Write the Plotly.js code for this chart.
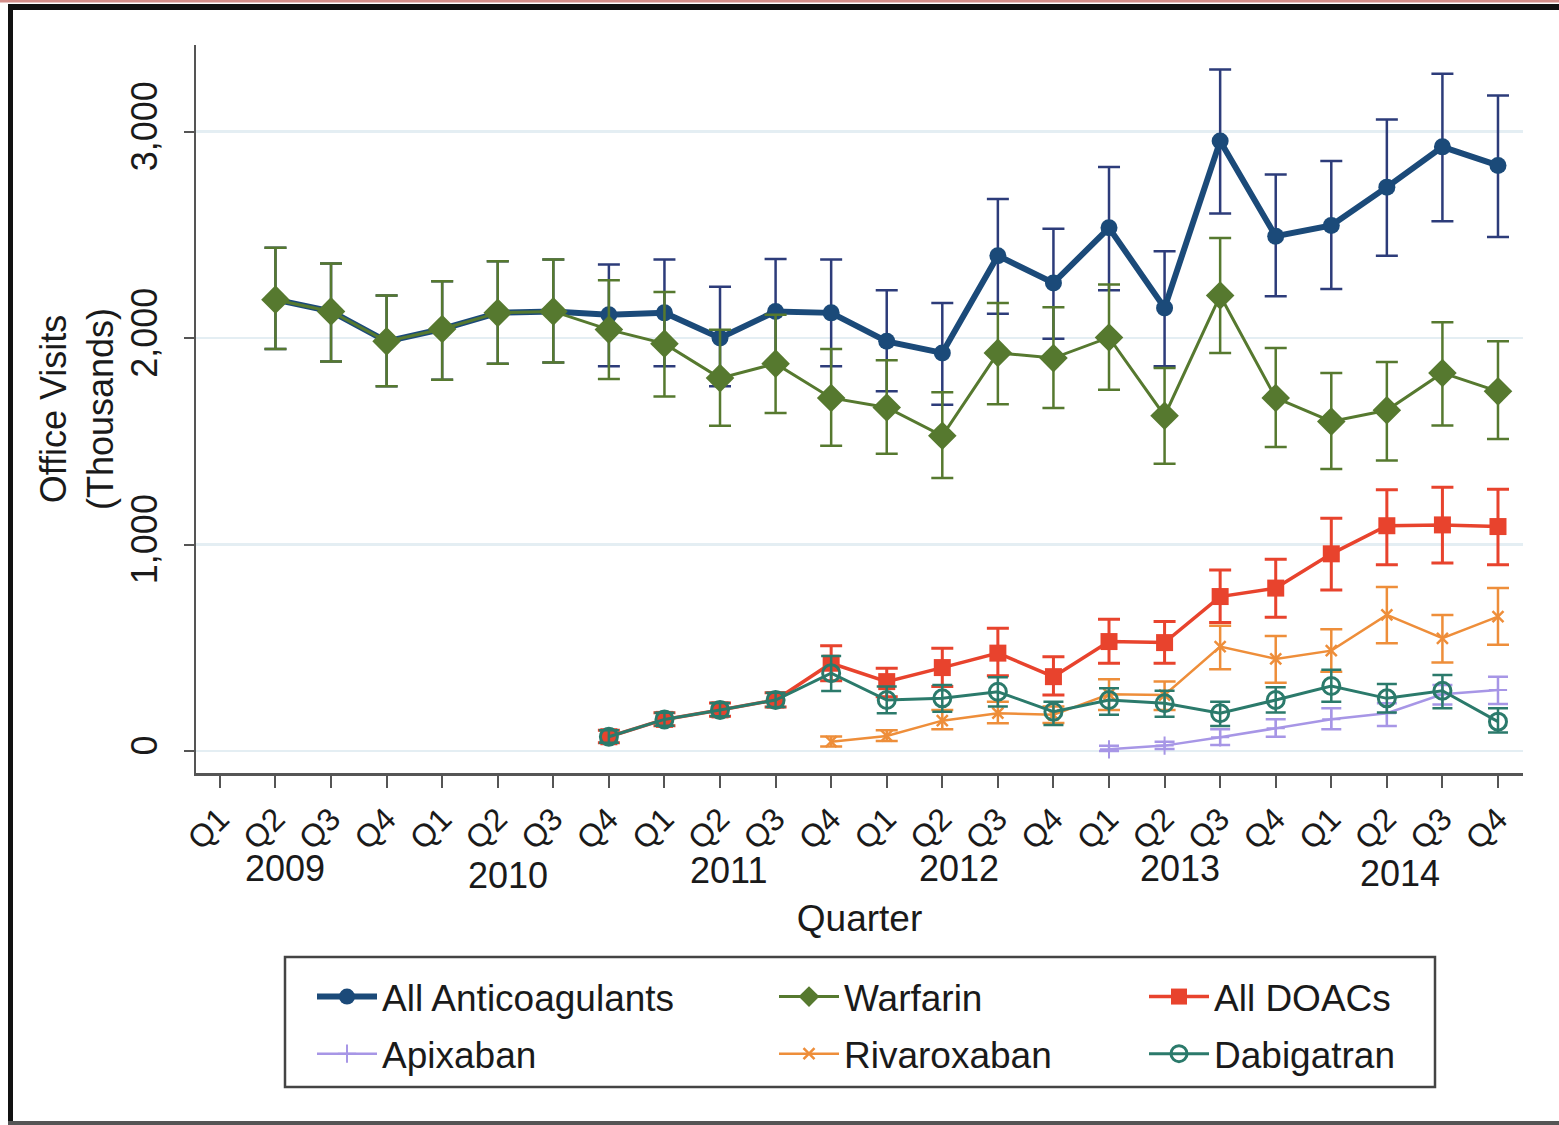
<!DOCTYPE html>
<html>
<head>
<meta charset="utf-8">
<script src="https://cdn.plot.ly/plotly-3.0.1.min.js"></script>
<style>
  html, body { margin: 0; padding: 0; background: #ffffff; }
  #chart { width: 1559px; height: 1125px; }
</style>
</head>
<body>
<div id="chart"></div>
<script>
// ---------------- DATA ----------------
const quarterIndex = [0,1,2,3,4,5,6,7,8,9,10,11,12,13,14,15,16,17,18,19,20,21,22,23];
const quarterLabels = ['Q1','Q2','Q3','Q4','Q1','Q2','Q3','Q4','Q1','Q2','Q3','Q4',
                       'Q1','Q2','Q3','Q4','Q1','Q2','Q3','Q4','Q1','Q2','Q3','Q4'];
const yearLabels = ['2009','2010','2011','2012','2013','2014'];
const seriesNames = ['All Anticoagulants','Warfarin','All DOACs','Apixaban','Rivaroxaban','Dabigatran'];

const allAnti   = [null,2186,2129,1984,2044,2122,2129,2113,2122,2000,2129,2122,1984,1928,2399,2267,2534,2146,2954,2493,2545,2731,2926,2836];
const allAntiHi = [null,2437,2361,2206,2275,2372,2380,2356,2380,2248,2383,2380,2231,2170,2674,2529,2829,2420,3301,2792,2857,3059,3280,3175];
const allAntiLo = [null,1947,1887,1766,1798,1876,1882,1863,1863,1766,1870,1863,1742,1677,2118,1997,2231,1863,2603,2202,2238,2399,2566,2490];

const warfarin   = [null,2186,2129,1984,2044,2122,2129,2041,1973,1806,1876,1710,1664,1527,1928,1903,2003,1624,2206,1710,1596,1650,1831,1742];
const warfarinHi = [null,2437,2361,2206,2275,2372,2380,2280,2223,2040,2113,1947,1892,1737,2170,2149,2259,1855,2485,1952,1831,1884,2076,1984];
const warfarinLo = [null,1947,1887,1766,1798,1876,1882,1802,1717,1575,1637,1478,1440,1322,1680,1661,1750,1391,1928,1472,1366,1407,1577,1511];

const doacs   = [null,null,null,null,null,null,null,69,153,199,247,425,336,404,474,360,530,525,748,789,955,1091,1095,1087];
const doacsHi = [null,null,null,null,null,null,null,100,185,232,282,510,401,498,595,457,638,627,877,929,1127,1265,1278,1268];
const doacsLo = [null,null,null,null,null,null,null,40,122,168,213,340,263,312,364,271,425,425,622,648,780,902,910,902];

const apixaban   = [null,null,null,null,null,null,null,null,null,null,null,null,null,null,null,null,8,26,66,110,154,183,275,296];
const apixabanHi = [null,null,null,null,null,null,null,null,null,null,null,null,null,null,null,null,25,45,105,154,207,231,320,360];
const apixabanLo = [null,null,null,null,null,null,null,null,null,null,null,null,null,null,null,null,0,10,29,69,105,121,225,228];

const rivaroxaban   = [null,null,null,null,null,null,null,null,null,null,null,45,73,147,183,175,275,271,506,446,486,659,546,651];
const rivaroxabanHi = [null,null,null,null,null,null,null,null,null,null,null,70,100,199,239,215,348,336,607,557,590,794,659,789];
const rivaroxabanLo = [null,null,null,null,null,null,null,null,null,null,null,22,48,105,134,135,199,199,396,331,384,522,428,514];

const dabigatran   = [null,null,null,null,null,null,null,69,153,199,247,377,247,255,287,190,247,231,183,247,315,255,292,142];
const dabigatranHi = [null,null,null,null,null,null,null,100,185,232,282,460,312,320,357,239,304,292,239,309,393,325,368,207];
const dabigatranLo = [null,null,null,null,null,null,null,40,122,168,213,290,183,190,215,126,175,166,121,186,239,186,207,89];

const yTickVals = [0,1000,2000,3000];
const yTickText = ['0','1,000','2,000','3,000'];

// ---------------- LAYOUT HELPERS ----------------
const W = 1559, H = 1125;
const M = {l: 196, r: 36, t: 45, b: 352};
const PW = W - M.l - M.r, PH = H - M.t - M.b;
const px2x = px => (px - M.l) / PW;
const px2y = py => (H - M.b - py) / PH;

function errBar(v, hi, lo, color, thick, width) {
  return {
    type: 'data', symmetric: false, visible: true,
    array: v.map((d, i) => d == null ? null : hi[i] - d),
    arrayminus: v.map((d, i) => d == null ? null : d - lo[i]),
    color: color, thickness: thick, width: width
  };
}

const C = {
  navy: '#1b4a79', navyErr: '#2d3c7a',
  green: '#56792f',
  red: '#e8432d',
  orange: '#ee8e3a',
  teal: '#2b7a6b',
  lav: '#a796e6'
};

const traces = [
  {
    name: seriesNames[0], x: quarterIndex, y: allAnti, type: 'scatter', mode: 'lines+markers',
    line: {color: C.navy, width: 6}, marker: {symbol: 'circle', size: 17, color: C.navy},
    error_y: errBar(allAnti, allAntiHi, allAntiLo, C.navyErr, 2.5, 11),
    legend: 'legend', legendgroup: 'g1'
  },
  {
    name: seriesNames[1], x: quarterIndex, y: warfarin, type: 'scatter', mode: 'lines+markers',
    line: {color: C.green, width: 3}, marker: {symbol: 'diamond', size: 22, color: C.green},
    error_y: errBar(warfarin, warfarinHi, warfarinLo, C.green, 2.5, 11),
    legend: 'legend2', legendgroup: 'g2'
  },
  {
    name: seriesNames[2], x: quarterIndex, y: doacs, type: 'scatter', mode: 'lines+markers',
    line: {color: C.red, width: 3.5}, marker: {symbol: 'square', size: 17, color: C.red},
    error_y: errBar(doacs, doacsHi, doacsLo, C.red, 3, 11),
    legend: 'legend3', legendgroup: 'g3'
  },
  {
    name: seriesNames[3], x: quarterIndex, y: apixaban, type: 'scatter', mode: 'lines+markers',
    line: {color: C.lav, width: 2.5}, marker: {symbol: 'cross-thin-open', size: 13, color: C.lav, line: {color: C.lav, width: 2}},
    error_y: errBar(apixaban, apixabanHi, apixabanLo, C.lav, 2.5, 10),
    legend: 'legend', legendgroup: 'g4'
  },
  {
    name: seriesNames[4], x: quarterIndex, y: rivaroxaban, type: 'scatter', mode: 'lines+markers',
    line: {color: C.orange, width: 2.5}, marker: {symbol: 'x-thin-open', size: 11, color: C.orange, line: {color: C.orange, width: 2.5}},
    error_y: errBar(rivaroxaban, rivaroxabanHi, rivaroxabanLo, C.orange, 2.5, 11),
    legend: 'legend2', legendgroup: 'g5'
  },
  {
    name: seriesNames[5], x: quarterIndex, y: dabigatran, type: 'scatter', mode: 'lines+markers',
    line: {color: C.teal, width: 3}, marker: {symbol: 'circle-open', size: 17, color: C.teal, line: {color: C.teal, width: 3}},
    error_y: errBar(dabigatran, dabigatranHi, dabigatranLo, C.teal, 2.5, 10),
    legend: 'legend3', legendgroup: 'g6'
  }
];

const FONT = 'Liberation Sans, Arial, Helvetica, sans-serif';
const legendBase = {
  orientation: 'v', xanchor: 'left', yanchor: 'top',
  bgcolor: 'rgba(0,0,0,0)', borderwidth: 0,
  font: {family: FONT, size: 37, color: '#1a1a1a'},
  itemwidth: 60, traceorder: 'grouped', tracegroupgap: 6
};
const legendTop = px2y(966);

const yearX = [1.18, 5.19, 9.15, 13.3, 17.28, 21.24];
const yearY = [868, 875, 870, 868, 868, 873];

const annotations = yearLabels.map((t, i) => ({
  text: t, x: yearX[i], xref: 'x', y: px2y(yearY[i]), yref: 'paper',
  showarrow: false, xanchor: 'center', yanchor: 'middle',
  font: {family: FONT, size: 36, color: '#1a1a1a'}
}));

const shapes = [
  // legend box
  {type: 'rect', xref: 'paper', yref: 'paper', x0: px2x(285), x1: px2x(1435), y0: px2y(1087), y1: px2y(957),
   line: {color: '#444444', width: 2.5}, fillcolor: 'rgba(0,0,0,0)', layer: 'below'},
  // outer frame
  {type: 'rect', xref: 'paper', yref: 'paper', x0: px2x(0), x1: px2x(W), y0: px2y(2.5), y1: px2y(0),
   line: {width: 0}, fillcolor: '#d48e8a'},
  {type: 'rect', xref: 'paper', yref: 'paper', x0: px2x(8), x1: px2x(W), y0: px2y(10), y1: px2y(4),
   line: {width: 0}, fillcolor: '#111111'},
  {type: 'rect', xref: 'paper', yref: 'paper', x0: px2x(8), x1: px2x(13), y0: px2y(H), y1: px2y(4),
   line: {width: 0}, fillcolor: '#111111'},
  {type: 'rect', xref: 'paper', yref: 'paper', x0: px2x(8), x1: px2x(W), y0: px2y(H), y1: px2y(1121),
   line: {width: 0}, fillcolor: '#555555'}
];

const layout = {
  width: W, height: H, autosize: false,
  margin: {l: M.l, r: M.r, t: M.t, b: M.b, pad: 0},
  paper_bgcolor: '#ffffff', plot_bgcolor: '#ffffff',
  font: {family: FONT, color: '#1a1a1a'},
  xaxis: {
    range: [-0.43, 23.45], tickmode: 'array', tickvals: quarterIndex, ticktext: quarterLabels,
    tickangle: -45, tickfont: {family: FONT, size: 32, color: '#1a1a1a'},
    ticks: 'outside', ticklen: 12, tickwidth: 2, tickcolor: '#555555',
    showline: true, linecolor: '#555555', linewidth: 2.5, showgrid: false, zeroline: false,
    title: {text: 'Quarter', font: {family: FONT, size: 37, color: '#1a1a1a'}, standoff: 50},
    automargin: false
  },
  yaxis: {
    range: [-106.6, 3419.4], tickmode: 'array', tickvals: yTickVals, ticktext: yTickText,
    tickangle: -90, tickfont: {family: FONT, size: 36, color: '#1a1a1a'},
    ticks: 'outside', ticklen: 10, tickwidth: 2, tickcolor: '#555555', ticklabelstandoff: 12,
    showline: true, linecolor: '#555555', linewidth: 2.5,
    showgrid: true, gridcolor: '#e4eef3', gridwidth: 2.5, zeroline: false,
    title: {text: 'Office Visits<br>(Thousands)', font: {family: FONT, size: 36, color: '#1a1a1a'}, standoff: 0},
    automargin: false
  },
  showlegend: true,
  legend:  Object.assign({}, legendBase, {x: px2x(312),  y: legendTop}),
  legend2: Object.assign({}, legendBase, {x: px2x(774),  y: legendTop}),
  legend3: Object.assign({}, legendBase, {x: px2x(1144), y: legendTop}),
  annotations: annotations,
  shapes: shapes
};

Plotly.newPlot('chart', traces, layout, {displayModeBar: false, staticPlot: true});
</script>
</body>
</html>
